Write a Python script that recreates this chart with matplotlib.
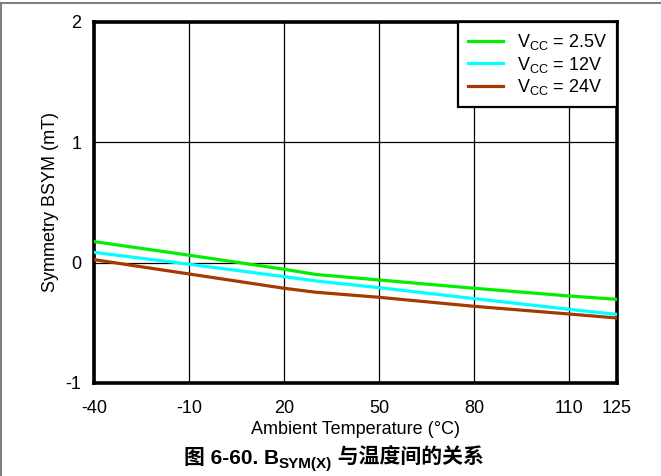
"""
B_SYM(X) vs ambient temperature for three supply voltages
"""

import matplotlib
matplotlib.use("Agg")
import matplotlib.pyplot as plt
from matplotlib.lines import Line2D

plt.rcParams["font.family"] = ["Liberation Sans", "Noto Sans CJK SC", "DejaVu Sans"]
plt.rcParams["mathtext.fontset"] = "custom"
plt.rcParams["mathtext.rm"] = "Liberation Sans"
plt.rcParams["axes.unicode_minus"] = False

temp = [-40, -10, 20, 30, 50, 80, 110, 125]
bsym_2v5 = [0.175, 0.062, -0.055, -0.098, -0.144, -0.213, -0.277, -0.305]
bsym_12v = [0.086, -0.013, -0.116, -0.152, -0.208, -0.299, -0.388, -0.430]
bsym_24v = [0.025, -0.094, -0.213, -0.246, -0.288, -0.363, -0.427, -0.460]

labels = [r"V$_{\mathregular{CC}}$ = 2.5V",
          r"V$_{\mathregular{CC}}$ = 12V",
          r"V$_{\mathregular{CC}}$ = 24V"]
colors = ["#00ee00", "#00ffff", "#a33a00"]
xticks = [-40, -10, 20, 50, 80, 110, 125]
yticks = [-1, 0, 1, 2]

fig = plt.figure(figsize=(6.61, 4.76), dpi=100)
ax = fig.add_axes([0.1422, 0.1954, 0.7912, 0.7584])

for y, c, lab in zip([bsym_2v5, bsym_12v, bsym_24v], colors, labels):
    ax.plot(temp, y, color=c, lw=2.3, label=lab, zorder=3)

ax.set_xlim(-40, 125)
ax.set_ylim(-1, 2)
ax.set_xticks(xticks)
ax.set_yticks(yticks)
ax.tick_params(length=0, labelsize=13)
ax.tick_params(axis="x", pad=12)
ax.tick_params(axis="y", pad=9)
ax.grid(True, color="black", lw=0.9)
for s in ax.spines.values():
    s.set_linewidth(2.6)
ax.set_xlabel("Ambient Temperature (°C)", fontsize=13, labelpad=3)
ax.set_ylabel("Symmetry BSYM (mT)", fontsize=13, labelpad=5)

leg = ax.legend(loc="upper right", borderaxespad=0, fontsize=13,
                handlelength=1.95, handletextpad=0.75, labelspacing=0.15,
                fancybox=False, framealpha=1, borderpad=0.55)
leg.get_frame().set_edgecolor("black")
leg.get_frame().set_linewidth(1.6)

# page borders
fig.add_artist(Line2D([0, 1], [1 - 2.5 / 476, 1 - 2.5 / 476],
                      color="#808080", lw=1.5, transform=fig.transFigure))
fig.add_artist(Line2D([0.7 / 661, 0.7 / 661], [0, 1 - 2.5 / 476],
                      color="#808080", lw=1.5, transform=fig.transFigure))

# caption built from pieces so the subscript sits right
fig.canvas.draw()
r = fig.canvas.get_renderer()
cap_y = 1 - 464 / 476
parts = [("图 6-60. B", 15, 0), ("SYM(X)", 11, -4), (" 与温度间的关系", 15, 0)]
texts = []
for s, size, dy in parts:
    t = fig.text(0, cap_y, s, fontsize=size, fontweight="bold", ha="left", va="baseline")
    texts.append((t, dy))
widths = [t.get_window_extent(r).width for t, _ in texts]
x0 = 334 - sum(widths) / 2
for (t, dy), w in zip(texts, widths):
    t.set_position((x0 / 661, cap_y + dy / 476))
    x0 += w

fig.savefig("out.png", dpi=100)
plt.close(fig)
